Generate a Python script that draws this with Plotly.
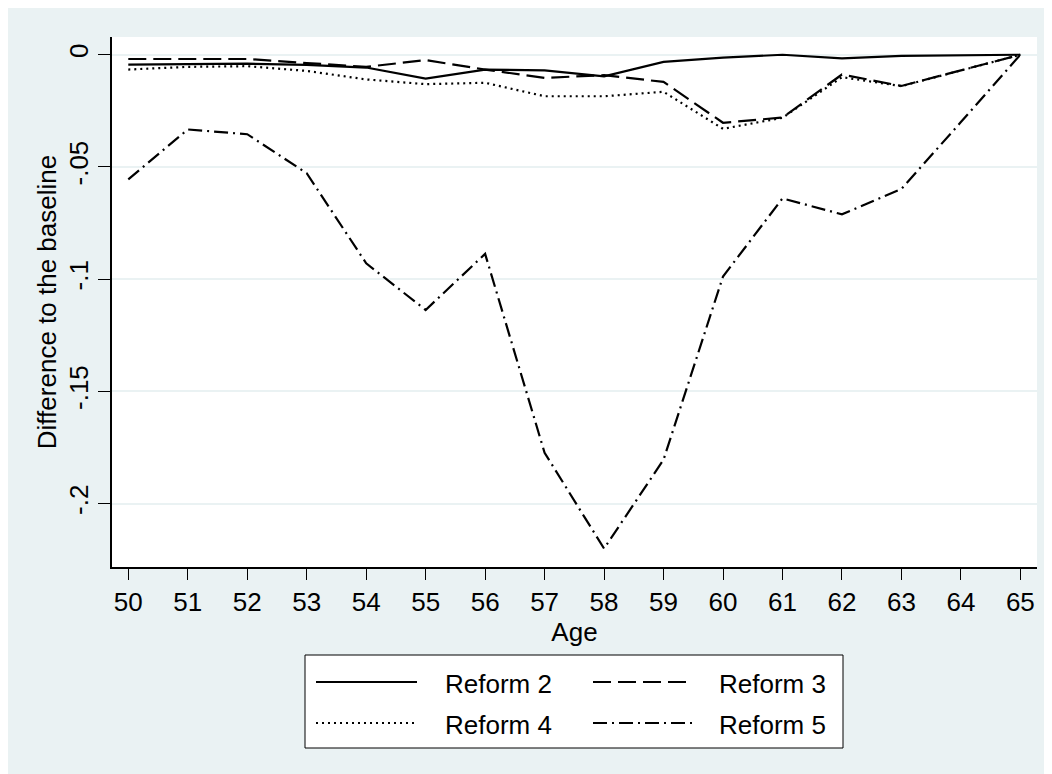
import plotly.graph_objects as go

# ---------------- data ----------------
ages = list(range(50, 66))
reform2 = [-0.0044, -0.0042, -0.0040, -0.0045, -0.0057, -0.0106, -0.0066, -0.0070,
           -0.0096, -0.0032, -0.0013, 0.0000, -0.0016, -0.0005, -0.0002, 0.0]
reform3 = [-0.0019, -0.0019, -0.0019, -0.0037, -0.0054, -0.0024, -0.0066, -0.0103,
           -0.0091, -0.0121, -0.0303, -0.0280, -0.0088, -0.0139, -0.0070, 0.0]
reform4 = [-0.0066, -0.0054, -0.0051, -0.0072, -0.0110, -0.0131, -0.0125, -0.0185,
           -0.0185, -0.0165, -0.0330, -0.0281, -0.0100, -0.0140, -0.0070, 0.0]
reform5 = [-0.0555, -0.0333, -0.0354, -0.0528, -0.0929, -0.1137, -0.0887, -0.1773,
           -0.2200, -0.1804, -0.0988, -0.0640, -0.0711, -0.0598, -0.0300, 0.0]

series_names = ["Reform 2", "Reform 3", "Reform 4", "Reform 5"]
y_tickvals = [0, -0.05, -0.1, -0.15, -0.2]
y_ticktext = ["0", "-.05", "-.1", "-.15", "-.2"]
x_tickvals = ages
x_title = "Age"
y_title = "Difference to the baseline"

# ---------------- styling ----------------
W, H = 1052, 774
OFF = 8  # page body margin: screen px -> figure px
ML, MR, MT, MB = 104, 23, 29, 215
BG = "#EAF2F3"
FONT = "Liberation Sans, Arial, Helvetica, sans-serif"
dashes = ["solid", "18px,7px", "2px,4px", "14px,5px,2px,5px"]
LW = 2.2

fig = go.Figure()
for name, vals, dash in zip(series_names, [reform2, reform3, reform4, reform5], dashes):
    fig.add_trace(go.Scatter(x=ages, y=vals, mode="lines", name=name,
                             line=dict(color="black", width=LW, dash=dash),
                             showlegend=False))

def pxx(px):
    return (px - OFF - ML) / (W - ML - MR)

def pxy(py):
    return (H - MB - (py - OFF)) / (H - MT - MB)

# custom legend box (Stata style, two columns); coordinates in screen px
shapes = [dict(type="rect", xref="paper", yref="paper",
               x0=pxx(305), x1=pxx(843), y0=pxy(655), y1=pxy(748),
               line=dict(color="black", width=1), fillcolor="white", layer="below")]
annotations = []
legend_pos = [(316, 417, 443, 682), (593, 693, 717, 682),
              (316, 417, 443, 723), (593, 693, 717, 723)]
for name, dash, (lx0, lx1, tx, ly) in zip(series_names, dashes, legend_pos):
    shapes.append(dict(type="line", xref="paper", yref="paper",
                       x0=pxx(lx0), x1=pxx(lx1), y0=pxy(ly), y1=pxy(ly),
                       line=dict(color="black", width=LW, dash=dash)))
    annotations.append(dict(xref="paper", yref="paper", x=pxx(tx), y=pxy(ly + 2),
                            xanchor="left", yanchor="middle", showarrow=False,
                            text=name, font=dict(size=26, color="black", family=FONT)))

fig.update_layout(
    width=W, height=H, autosize=False,
    margin=dict(l=ML, r=MR, t=MT, b=MB),
    paper_bgcolor=BG, plot_bgcolor="white",
    font=dict(family=FONT, size=26, color="black"),
    shapes=shapes, annotations=annotations,
    showlegend=False,
)
fig.update_xaxes(
    range=[49.726, 65.28], tickvals=x_tickvals, ticktext=[str(a) for a in x_tickvals],
    ticks="outside", ticklen=11, tickwidth=1.3, tickcolor="black",
    showline=True, linecolor="black", linewidth=1.5, showgrid=False, zeroline=False,
    tickfont=dict(size=26), title=dict(text=x_title, font=dict(size=26), standoff=0),
)
fig.update_yaxes(
    range=[-0.2282, 0.0079], tickvals=y_tickvals, ticktext=y_ticktext, tickangle=-90,
    ticks="outside", ticklen=12, tickwidth=1.3, tickcolor="black",
    showline=True, linecolor="black", linewidth=1.5,
    showgrid=True, gridcolor=BG, gridwidth=2, zeroline=False,
    tickfont=dict(size=26), title=dict(text=y_title, font=dict(size=26), standoff=0),
)

fig.write_html("out.html")
